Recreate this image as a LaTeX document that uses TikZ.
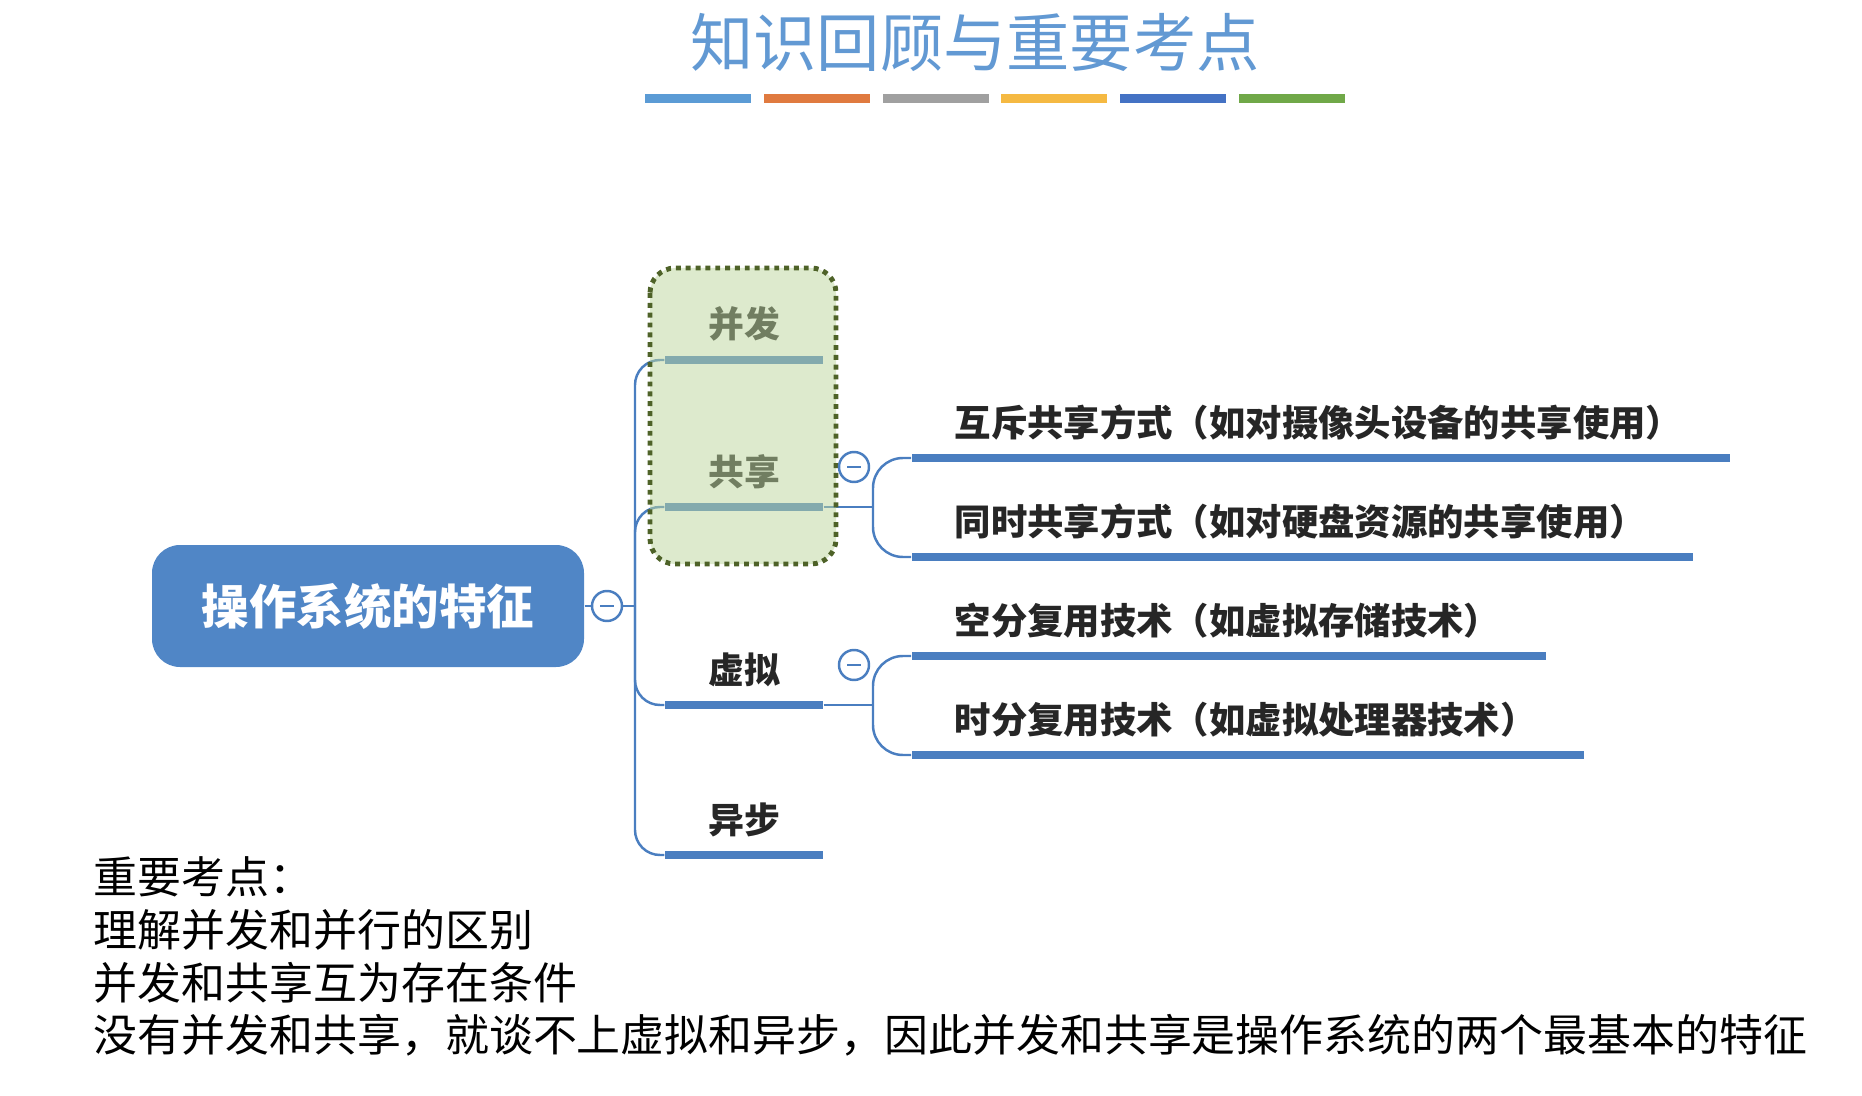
\documentclass[tikz,border=0pt]{standalone}
\usepackage{fontspec}
\setmainfont{Noto Sans CJK SC}
\usetikzlibrary{positioning,calc}
\definecolor{titleblue}{RGB}{98,153,211}
\definecolor{rootblue}{RGB}{80,134,198}
\definecolor{linkblue}{RGB}{74,126,192}
\definecolor{boxgreen}{RGB}{188,214,156}
\definecolor{boxedge}{RGB}{78,98,40}
\definecolor{txtdark}{RGB}{38,38,38}
\definecolor{deco1}{RGB}{91,155,213}
\definecolor{deco2}{RGB}{224,122,63}
\definecolor{deco3}{RGB}{160,160,160}
\definecolor{deco4}{RGB}{245,185,66}
\definecolor{deco5}{RGB}{68,114,196}
\definecolor{deco6}{RGB}{112,168,72}
\tikzset{
  titletext/.style={text=titleblue, font=\fontsize{18pt}{21pt}\selectfont},
  root/.style={
    fill=rootblue, rounded corners=2.8mm,
    minimum width=43.2mm, minimum height=12.2mm,
    text=white, font=\fontsize{13.5pt}{16pt}\selectfont\bfseries
  },
  link/.style={draw=linkblue, line width=0.7pt},
  bar/.style={fill=linkblue, inner sep=0pt, minimum height=0.8mm},
  lbl/.style={text=txtdark, inner sep=0pt, font=\fontsize{10.2pt}{12pt}\selectfont\bfseries},
  subtext/.style={text=txtdark, inner sep=0pt, font=\fontsize{10.35pt}{12pt}\selectfont\bfseries},
  grpbox/.style={
    draw=boxedge, line width=1.4pt, dash pattern=on 1.4pt off 1.4pt,
    fill=boxgreen, fill opacity=0.5, rounded corners=2.5mm
  },
  fold/.style={
    circle, draw=linkblue, fill=white, line width=0.7pt,
    minimum size=3mm, inner sep=0pt,
    path picture={
      \draw[linkblue, line width=0.6pt]
        ([xshift=-0.7mm]path picture bounding box.center) --
        ([xshift=0.7mm]path picture bounding box.center);
    }
  },
  notes/.style={align=left, inner sep=0pt, font=\fontsize{12.5pt}{15pt}\selectfont}
}
\begin{document}
\begin{tikzpicture}[x=0.1mm,y=-0.1mm]
\useasboundingbox (0,0) rectangle (1862,1096);
% title and colour strip
\node[titletext] (title) at (975,43) {知识回顾与重要考点};
\foreach \c [count=\i from 0] in {deco1,deco2,deco3,deco4,deco5,deco6}
  \fill[\c] (645+\i*118.8,94) rectangle ++(106,9);
% root and first level
\node[root] (os) at (368,606) {操作系统的特征};
\coordinate (trunk) at (635,606);
\foreach \nm/\yy/\txt in {bf/360/并发, gx/507/共享, xn/705/虚拟, yb/855/异步} {
  \node[bar, minimum width=15.8mm] (\nm) at (744,\yy) {};
  \node[lbl, above=1.3mm of \nm] (\nm-t) {\txt};
}
\draw[link] (os.east) -- (trunk);
\foreach \nm in {bf,gx,xn,yb}
  \draw[link, rounded corners=2.5mm] (trunk) |- (\nm.west);
% second level
\foreach \nm/\yy/\barw/\txt in {%
  hc/458/81.8/互斥共享方式（如对摄像头设备的共享使用）,
  ts/557/78.1/同时共享方式（如对硬盘资源的共享使用）,
  kf/656/63.4/空分复用技术（如虚拟存储技术）,
  sf/755/67.2/时分复用技术（如虚拟处理器技术）%
} {
  \node[bar, anchor=west, minimum width=\barw mm] (\nm) at (911,\yy) {};
  \node[subtext, anchor=west] (\nm-t) at (954,\yy-35) {\txt};
}
\coordinate (gxfork) at (873,507);
\coordinate (xnfork) at (873,705);
\draw[link] (gx.east) -- (gxfork);
\draw[link] (xn.east) -- (xnfork);
\draw[link, rounded corners=3mm] (gxfork) |- (hc.west);
\draw[link, rounded corners=3mm] (gxfork) |- (ts.west);
\draw[link, rounded corners=3mm] (xnfork) |- (kf.west);
\draw[link, rounded corners=3mm] (xnfork) |- (sf.west);
% group box over the first two branches
\draw[grpbox] (650,268) rectangle (836,564);
\node[fold] (osfold) at (607,606) {};
\node[fold] (gxfold) at (854,467) {};
\node[fold] (xnfold) at (854,665) {};
% key points
\node[notes, anchor=north west] (keys) at (93,856) {重要考点：\\理解并发和并行的区别\\并发和共享互为存在条件\\没有并发和共享，就谈不上虚拟和异步，因此并发和共享是操作系统的两个最基本的特征};
\end{tikzpicture}
\end{document}
